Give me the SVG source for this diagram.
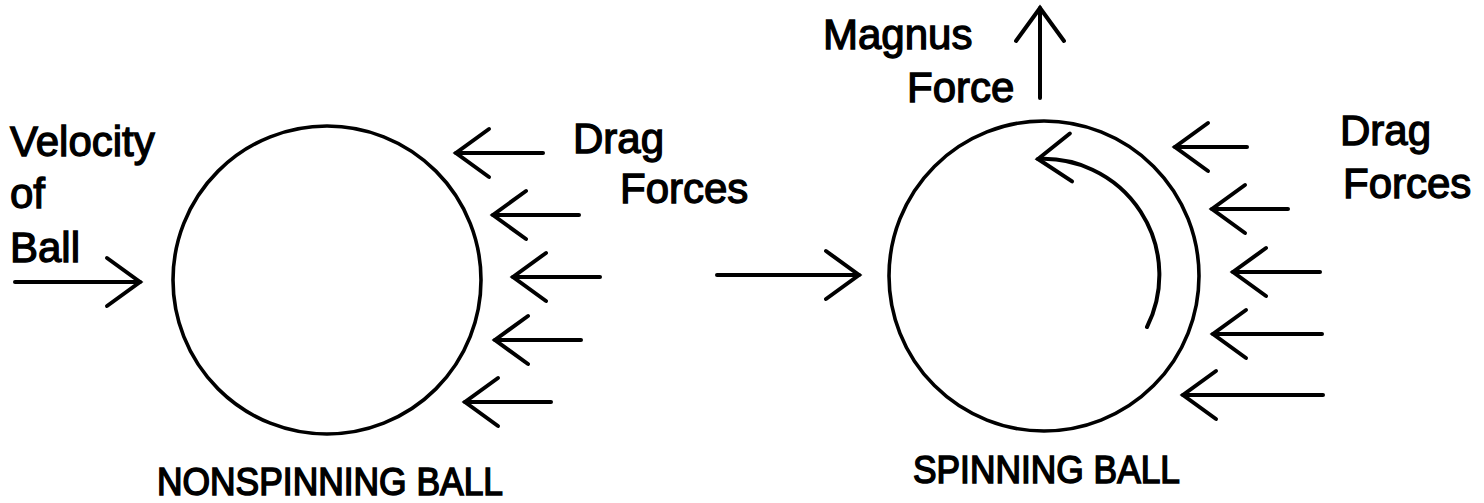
<svg xmlns="http://www.w3.org/2000/svg" width="1484" height="503" viewBox="0 0 1484 503">
<style>
.ball{fill:none;stroke:#000;stroke-width:3.6}
.arr{fill:none;stroke:#000;stroke-width:4;stroke-linecap:round;marker-end:url(#head)}
.lbl{font-family:"Liberation Sans",Arial,sans-serif;font-size:42px;fill:#000;stroke:#000;stroke-width:1.3}
.cap{font-family:"Liberation Sans",Arial,sans-serif;font-size:39px;fill:#000;stroke:#000;stroke-width:1.6}
</style>
<defs>
<marker id="head" markerUnits="userSpaceOnUse" viewBox="-40 -30 44 60" markerWidth="44" markerHeight="60" refX="0" refY="0" orient="auto" overflow="visible">
<path d="M-33,-24 L0,0 L-33,24" fill="none" stroke="#000" stroke-width="4" stroke-linecap="round" stroke-linejoin="miter"/>
</marker>
</defs>
<rect width="1484" height="503" fill="#fff"/>
<g id="nonspinning-ball">
<circle class="ball" cx="327" cy="280" r="154"/>
<text class="cap" x="157" y="495" textLength="346" lengthAdjust="spacingAndGlyphs">NONSPINNING BALL</text>
</g>
<g id="velocity-label">
<text class="lbl" x="10" y="156">Velocity</text>
<text class="lbl" x="10" y="208">of</text>
<text class="lbl" x="10" y="262">Ball</text>
</g>
<g id="drag-label-left">
<text class="lbl" x="573" y="153">Drag</text>
<text class="lbl" x="620" y="203">Forces</text>
</g>
<g id="spinning-ball">
<circle class="ball" cx="1044" cy="276" r="155"/>
<text class="cap" x="913" y="483" textLength="267" lengthAdjust="spacingAndGlyphs">SPINNING BALL</text>
</g>
<g id="magnus-label">
<text class="lbl" x="823" y="49">Magnus</text>
<text class="lbl" x="907" y="102">Force</text>
</g>
<g id="drag-label-right">
<text class="lbl" x="1340" y="145">Drag</text>
<text class="lbl" x="1343" y="198">Forces</text>
</g>
<g id="connectors">
<path class="arr" d="M15,282 H140"/>
<path class="arr" d="M543,153 H456"/>
<path class="arr" d="M579,215 H493"/>
<path class="arr" d="M600,277 H513"/>
<path class="arr" d="M581,340 H495"/>
<path class="arr" d="M551,402 H465"/>
<path class="arr" d="M717,275 H859"/>
<path class="arr" d="M1040,98 V8"/>
<path class="arr" d="M1147,327 A116,116 0 0 0 1038,159"/>
<path class="arr" d="M1247,147 H1175"/>
<path class="arr" d="M1288,209 H1212"/>
<path class="arr" d="M1320,272 H1233"/>
<path class="arr" d="M1322,334 H1213"/>
<path class="arr" d="M1323,395 H1183"/>
</g>
</svg>
